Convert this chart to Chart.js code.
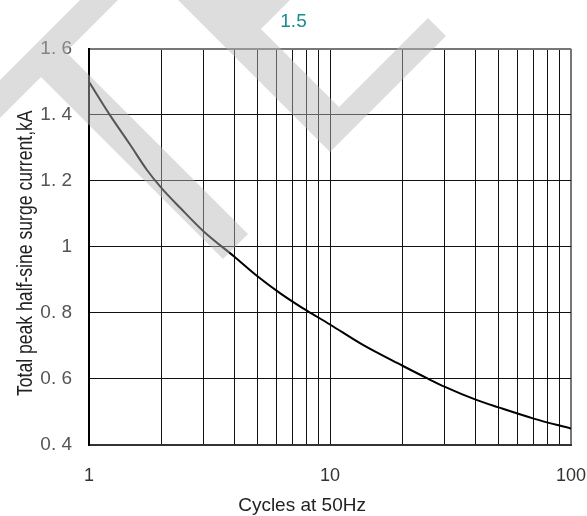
<!DOCTYPE html>
<html>
<head>
<meta charset="utf-8">
<script src="https://cdn.jsdelivr.net/npm/chart.js@4/dist/chart.umd.min.js"></script>
<style>
  html, body { margin: 0; padding: 0; background: #fff; }
  canvas { display: block; }
</style>
</head>
<body>
<canvas id="chart" width="587" height="516"></canvas>
<script>
'use strict';

// Curve
const cycles = [1, 1.22, 1.48, 1.74, 2, 2.4, 3, 4, 5, 6.2, 7.5, 8.1, 10, 13.7, 20, 25, 30, 40, 50, 70, 100];
const surgeKA = [1.50, 1.40, 1.31, 1.233, 1.178, 1.117, 1.046, 0.971, 0.911, 0.860, 0.820, 0.805, 0.765, 0.703, 0.640, 0.604, 0.576, 0.538, 0.514, 0.480, 0.450];

// Axis ticks
const xTickValues = [1, 2, 3, 4, 5, 6, 7, 8, 9, 10, 20, 30, 40, 50, 60, 70, 80, 90, 100];
const xLabelValues = [1, 10, 100];
const xLabels = ['1', '10', '100'];
const yTickValues = [0.4, 0.6, 0.8, 1, 1.2, 1.4, 1.6];
const yTickLabels = ['0. 4', '0. 6', '0. 8', '1', '1. 2', '1. 4', '1. 6'];

const chartTitle = '1.5';
const xTitle = 'Cycles at 50Hz';
const yTitle = 'Total peak half-sine surge current,kA';

const FONT = "'Liberation Sans', Arial, sans-serif";

//Axis titles and the grey watermark drawn over the chart
const overlay = {
  id: 'overlay',
  afterDraw(chart) {
    const c = chart.ctx;
    const a = chart.chartArea;
    c.save();
    c.fillStyle = '#222';
    c.font = '19px ' + FONT;
    c.textAlign = 'center';
    c.textBaseline = 'alphabetic';
    c.fillText(xTitle, a.left + 0.442 * (a.right - a.left), a.bottom + 66);

    c.translate(32, a.top + 0.516 * (a.bottom - a.top));
    c.rotate(-Math.PI / 2);
    c.scale(0.8, 1);
    c.font = '22px ' + FONT;
    c.fillText(yTitle, 0, 0);
    c.restore();

    // watermark stripes
    c.save();
    c.fillStyle = 'rgba(182,182,182,0.47)';
    c.beginPath();
    const shapes = [
      [[0, 80], [80, 0], [118, 0], [0, 118]],
      [[50, 36], [248, 234], [223, 259], [30, 66]],
      [[178, 0], [232, 0], [339, 107], [428, 18], [446, 36], [330, 152]],
      [[230, 0], [290, 0], [261, 29]]
    ];
    shapes.forEach(s => {
      c.moveTo(s[0][0], s[0][1]);
      s.slice(1).forEach(p => c.lineTo(p[0], p[1]));
      c.closePath();
    });
    c.fill('nonzero');
    c.restore();
  }
};

const chart = new Chart(document.getElementById('chart'), {
  type: 'line',
  data: {
    datasets: [{
      data: cycles.map((x, i) => ({ x: x, y: surgeKA[i] })),
      borderColor: '#000',
      borderWidth: 2,
      pointRadius: 0,
      cubicInterpolationMode: 'monotone',
      fill: false
    }]
  },
  options: {
    responsive: false,
    animation: false,
    layout: { padding: 0 },
    plugins: {
      legend: { display: false },
      tooltip: { enabled: false },
      title: {
        display: true,
        text: chartTitle,
        color: '#178e8e',
        font: { family: FONT, size: 19, weight: 'normal' },
        padding: { top: 10, bottom: 16 }
      }
    },
    scales: {
      x: {
        type: 'logarithmic',
        min: 1,
        max: 100,
        afterBuildTicks: s => { s.ticks = xTickValues.map(v => ({ value: v })); },
        afterFit: s => { s.height = 71; s.paddingLeft = 0; s.paddingRight = 16; },
        ticks: {
          autoSkip: false,
          maxRotation: 0,
          padding: 20,
          color: '#333',
          font: { family: FONT, size: 18 },
          callback: v => {
            const i = xLabelValues.indexOf(v);
            return i >= 0 ? xLabels[i] : '';
          }
        },
        grid: {
          drawTicks: false,
          color: ctx => ctx.tick && ctx.tick.value === 100 ? '#777' : '#111',
          lineWidth: ctx => ctx.tick && ctx.tick.value === 100 ? 2 : 1
        },
        border: { color: '#333', width: 2 }
      },
      y: {
        min: 0.4,
        max: 1.6,
        afterBuildTicks: s => { s.ticks = yTickValues.map(v => ({ value: v })); },
        afterFit: s => { s.width = 89; },
        ticks: {
          padding: 17,
          color: '#555',
          font: { family: FONT, size: 19 },
          callback: v => yTickLabels[yTickValues.indexOf(v)]
        },
        grid: {
          drawTicks: false,
          color: ctx => ctx.tick && ctx.tick.value === 1.6 ? '#777' : '#111',
          lineWidth: ctx => ctx.tick && ctx.tick.value === 1.6 ? 2 : 1
        },
        border: { color: '#000', width: 2 }
      }
    }
  },
  plugins: [overlay]
});
</script>
</body>
</html>
